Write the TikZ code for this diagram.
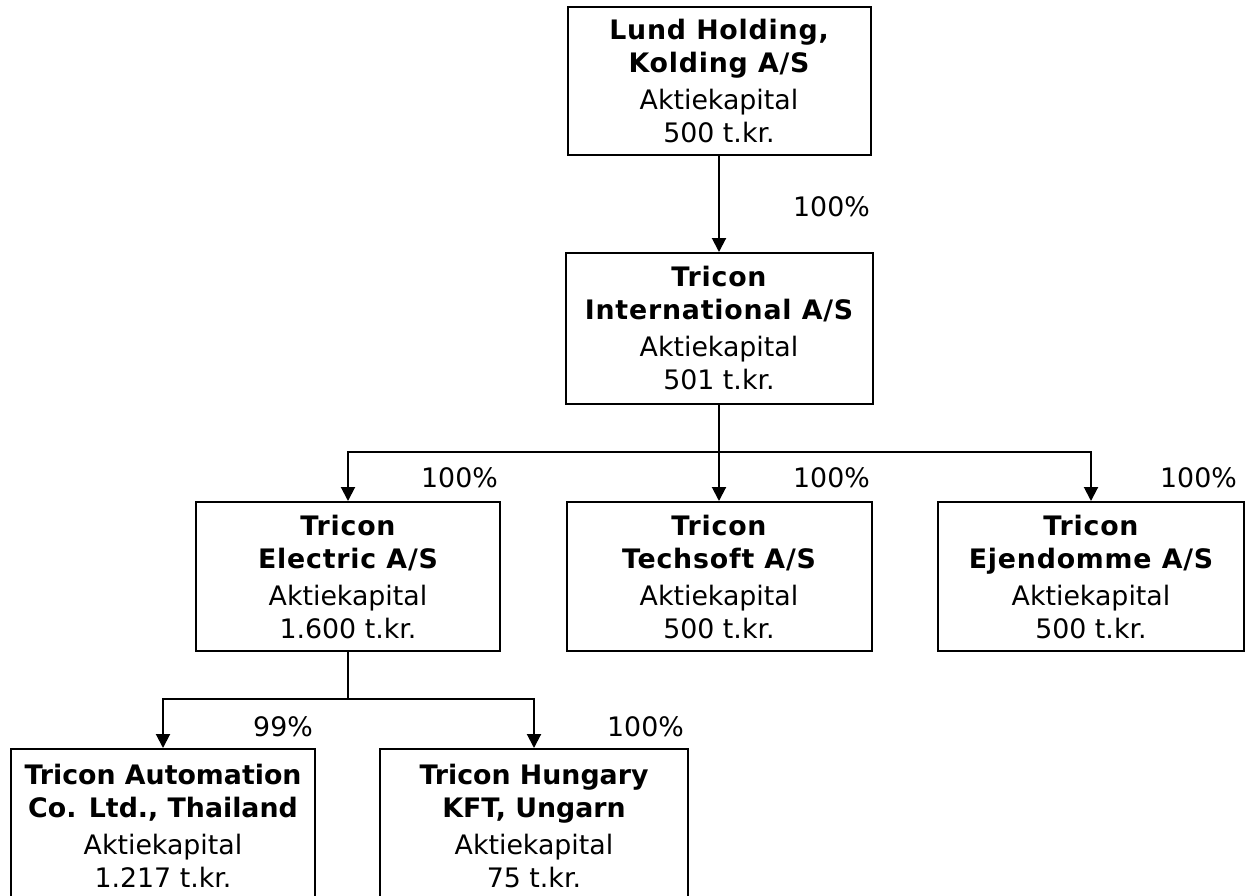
\documentclass[tikz,border=0pt]{standalone}
\usepackage{fontspec}
\setmainfont{DejaVu Sans}
\newfontfamily\widefam{DejaVu Sans}[LetterSpace=3]
\newcommand{\wb}[1]{{\widefam\bfseries #1}}
\usetikzlibrary{arrows.meta}
\begin{document}
\begin{tikzpicture}[x=1pt,y=-1pt,
  company/.style={draw=black, line width=2pt, fill=white, align=center,
    inner sep=0pt, font=\fontsize{26.8}{33}\selectfont},
  pct/.style={anchor=east, inner sep=0pt, font=\fontsize{26.8}{33}\selectfont},
  link/.style={line width=2pt, draw=black},
  arr/.style={link, -{Triangle[length=14pt,width=14pt]}}]
\useasboundingbox (0,0) rectangle (1251,895);
\fill[white] (0,0) rectangle (1251,895);
\begin{scope}
\clip (0,0) rectangle (1251,895);
\node[company, minimum width=303pt, minimum height=148pt] (lund) at (719,81)
  {\wb{Lund Holding,}\\\wb{Kolding A/S}\\[4pt]Aktiekapital\\500 t.kr.};
\node[company, minimum width=307pt, minimum height=151pt] (intl) at (719,328.5)
  {\wb{Tricon}\\\wb{International A/S}\\[4pt]Aktiekapital\\501 t.kr.};
\node[company, minimum width=304pt, minimum height=149pt] (elec) at (348,576.5)
  {\wb{Tricon}\\\wb{Electric A/S}\\[4pt]Aktiekapital\\1.600 t.kr.};
\node[company, minimum width=305pt, minimum height=149pt] (tech) at (719,576.5)
  {\wb{Tricon}\\\wb{Techsoft A/S}\\[4pt]Aktiekapital\\500 t.kr.};
\node[company, minimum width=306pt, minimum height=149pt] (ejen) at (1091,576.5)
  {\wb{Tricon}\\\wb{Ejendomme A/S}\\[4pt]Aktiekapital\\500 t.kr.};
\node[company, anchor=north, minimum width=304pt, minimum height=154pt] (thai) at (163,748)
  {\textbf{Tricon Automation}\\\textbf{Co. Ltd., Thailand}\\[4pt]Aktiekapital\\1.217 t.kr.};
\node[company, anchor=north, minimum width=308pt, minimum height=154pt] (hung) at (534,748)
  {\textbf{Tricon Hungary}\\\textbf{KFT, Ungarn}\\[4pt]Aktiekapital\\75 t.kr.};
\end{scope}

\coordinate (j1) at (719,452);
\coordinate (j2) at (348,699);

\draw[arr] (lund.south) -- (intl.north);
\draw[link] (intl.south) -- (j1);
\draw[arr] (j1) -| (elec.north);
\draw[arr] (j1) -- (tech.north);
\draw[arr] (j1) -| (ejen.north);
\draw[link] (elec.south) -- (j2);
\draw[arr] (j2) -| (thai.north);
\draw[arr] (j2) -| (hung.north);

\node[pct] (p1) at (870,207) {100\%};
\node[pct] (p2) at (498,478) {100\%};
\node[pct] (p3) at (870,478) {100\%};
\node[pct] (p4) at (1237,478) {100\%};
\node[pct] (p5) at (313,727) {99\%};
\node[pct] (p6) at (684,727) {100\%};
\end{tikzpicture}
\end{document}
